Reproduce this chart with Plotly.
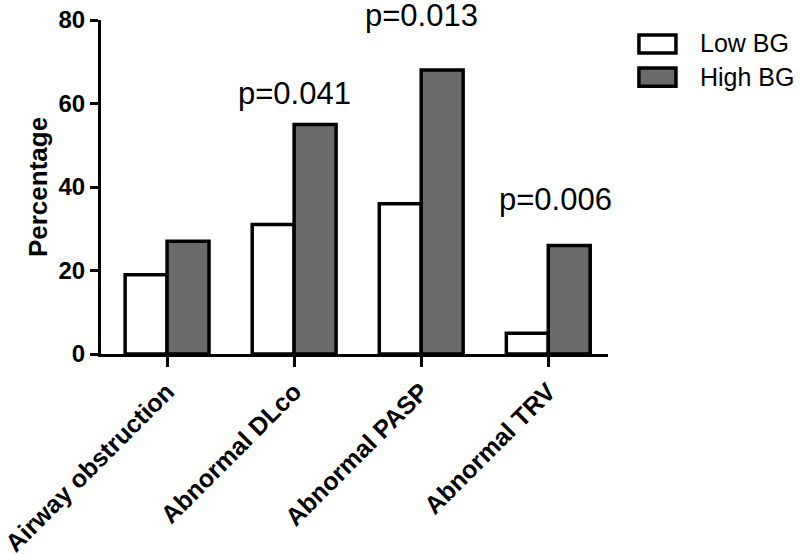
import plotly.graph_objects as go

categories = ["Airway obstruction", "Abnormal DLco", "Abnormal PASP", "Abnormal TRV"]
low_bg = [19, 31, 36, 5]
high_bg = [27, 55, 68, 26]
p_labels = ["", "p=0.041", "p=0.013", "p=0.006"]
p_heights = [0, 62.3, 81.0, 36.9]  # where the p-value text sits (data units)
p_xshift = [0, 0, 0, 7]
series_names = ["Low BG", "High BG"]
series_colors = ["#ffffff", "#6b6b6b"]

FONT = "Liberation Sans, Arial, sans-serif"
Y_MAX = 80

fig = go.Figure()
for name, vals, col in zip(series_names, [low_bg, high_bg], series_colors):
    fig.add_trace(go.Bar(
        x=categories, y=vals, name=name, marker_color=col,
        marker_line=dict(color="black", width=3.5), showlegend=False,
    ))

# y given as fraction of the axis so the label above 80 isn't hidden
for cat, txt, h, dx in zip(categories, p_labels, p_heights, p_xshift):
    if txt:
        fig.add_annotation(x=cat, y=h / Y_MAX, yref="y domain", text=txt,
                           showarrow=False, xshift=dx,
                           font=dict(family=FONT, size=31, color="black"),
                           yanchor="middle", xanchor="center")

# legend drawn by hand (big boxes as in the original)
box_y = [(0.901, 0.955), (0.802, 0.856)]
text_y = [0.931, 0.829]
for name, col, (y0, y1), ty in zip(series_names, series_colors, box_y, text_y):
    fig.add_shape(type="rect", xref="paper", yref="paper",
                  x0=1.061, x1=1.134, y0=y0, y1=y1,
                  fillcolor=col, line=dict(color="black", width=3.5))
    fig.add_annotation(xref="paper", yref="paper", x=1.178, y=ty,
                       text=name, showarrow=False, xanchor="left",
                       yanchor="middle",
                       font=dict(family=FONT, size=25, color="black"))

fig.update_layout(
    width=800, height=554,
    margin=dict(l=101, r=192, t=20, b=200),
    plot_bgcolor="white", paper_bgcolor="white",
    barmode="group", bargap=0.34, bargroupgap=0,
    font=dict(family=FONT, color="black"),
)
fig.update_xaxes(
    range=[-0.52, 3.47], showline=True, linecolor="black", linewidth=3,
    ticks="outside", ticklen=10, tickwidth=3, tickcolor="black",
    tickangle=-45, tickfont=dict(family=FONT, size=25, weight="bold"),
    showgrid=False, zeroline=False, automargin=False,
    ticklabeloverflow="allow",
)
fig.update_yaxes(
    range=[0, Y_MAX], tickvals=[0, 20, 40, 60, 80],
    showline=True, linecolor="black", linewidth=3,
    ticks="outside", ticklen=8, tickwidth=3, tickcolor="black",
    tickfont=dict(family=FONT, size=24, weight="bold"),
    title=dict(text="Percentage", font=dict(family=FONT, size=26, weight="bold"),
               standoff=4),
    showgrid=False, zeroline=False, automargin=False,
    ticklabeloverflow="allow",
)

# drop the browser's default 8px body margin so the figure sits at 0,0
fig.write_html("out.html", config={"displayModeBar": False},
               post_script="document.body.style.margin = '0';")
